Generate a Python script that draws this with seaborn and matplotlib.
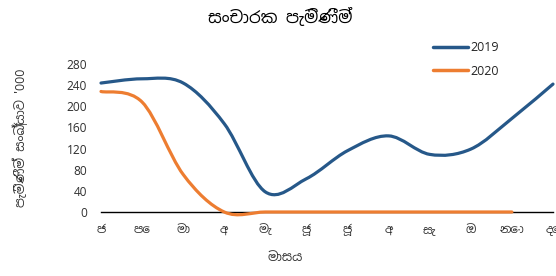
import numpy as np
import pandas as pd
import matplotlib.pyplot as plt
import seaborn as sns
from matplotlib.path import Path
from matplotlib.patches import PathPatch
from matplotlib.lines import Line2D

# data ('000 arrivals per month)
months = ['ජ', 'පෙ', 'මා', 'අ', 'මැ', 'ජූ', 'ජූ', 'අ', 'සැ', 'ඔ', 'නො', 'දෙ']
arrivals_2019 = [244, 252, 244, 167, 38, 63, 116, 144, 109, 119, 177, 242]
arrivals_2020 = [228, 208, 71, 0, 0, 0, 0, 0, 0, 0, 0, np.nan]
years = ['2019', '2020']
colors = ['#265889', '#ed7d31']
yticks = [0, 40, 80, 120, 160, 200, 240, 280]

title = 'සංචාරක පැමිණීම්'
xlabel = 'මාසය'
ylabel = "පැමිණීම් සංඛ්‍යාව '000"

sns.set_style('white')
# try any family that may carry Sinhala glyphs, then fall back
plt.rcParams['font.family'] = ['Noto Sans Sinhala', 'Noto Serif Sinhala', 'Iskoola Pota',
                               'FreeSerif', 'FreeSans', 'LKLUG', 'DejaVu Sans']

df = pd.DataFrame({
    'month': list(range(len(months))) * 2,
    'arrivals': arrivals_2019 + arrivals_2020,
    'year': [years[0]] * 12 + [years[1]] * 12,
})


def smooth_path(x, y):
    # bezier curve through the points, like a spreadsheet "smoothed line"
    pts = np.column_stack([x, y]).astype(float)
    pts = pts[~np.isnan(pts[:, 1])]
    n = len(pts)
    verts = [pts[0]]
    codes = [Path.MOVETO]
    for i in range(n - 1):
        p0 = pts[max(i - 1, 0)]
        p1 = pts[i]
        p2 = pts[i + 1]
        p3 = pts[min(i + 2, n - 1)]
        verts += [p1 + (p2 - p0) / 6, p2 - (p3 - p1) / 6, p2]
        codes += [Path.CURVE4] * 3
    return Path(verts, codes)


fig = plt.figure(figsize=(5.56, 2.76), dpi=100)
ax = fig.add_axes([101 / 556, 64 / 276, 452 / 556, 148 / 276])

sns.lineplot(data=df, x='month', y='arrivals', hue='year', palette=colors,
             ax=ax, legend=False, linewidth=2.3)

# swap the straight segments for smoothed curves
for line, c in zip(list(ax.lines), colors):
    p = smooth_path(line.get_xdata(), line.get_ydata())
    ax.add_patch(PathPatch(p, facecolor='none', edgecolor=c, lw=2.3,
                           capstyle='round', clip_on=False, zorder=3))
    line.set_visible(False)

ax.set_xlim(0, 11)
ax.set_ylim(0, 280)
ax.set_xticks(range(len(months)))
ax.set_xticklabels(months)
ax.set_yticks(yticks)
ax.tick_params(axis='both', length=0, labelsize=8.5, colors='#333333')
ax.tick_params(axis='x', pad=8)
ax.tick_params(axis='y', pad=10)

for s in ['top', 'right', 'left']:
    ax.spines[s].set_visible(False)
ax.spines['bottom'].set_color('black')
ax.spines['bottom'].set_linewidth(1)
ax.spines['bottom'].set_zorder(2)

ax.set_xlabel(xlabel, fontsize=9, color='#333333')
ax.set_ylabel(ylabel, fontsize=9, color='#333333')
ax.xaxis.set_label_coords((285 - 101) / 452, (212 - 251) / 148)
ax.yaxis.set_label_coords((28 - 101) / 452, 0.5)

fig.text(280 / 556, 1 - 17 / 276, title, ha='center', va='center',
         fontsize=12, fontweight='bold', color='black')

handles = [Line2D([0], [0], color=c, lw=2.5) for c in colors]
ax.legend(handles, years, loc='upper left', bbox_to_anchor=(433 / 556, 1 - 41 / 276),
          bbox_transform=fig.transFigure, frameon=False, fontsize=9,
          handlelength=2.8, handletextpad=0.2, labelspacing=0.85,
          borderpad=0, borderaxespad=0)

fig.savefig('out.png', dpi=100)
